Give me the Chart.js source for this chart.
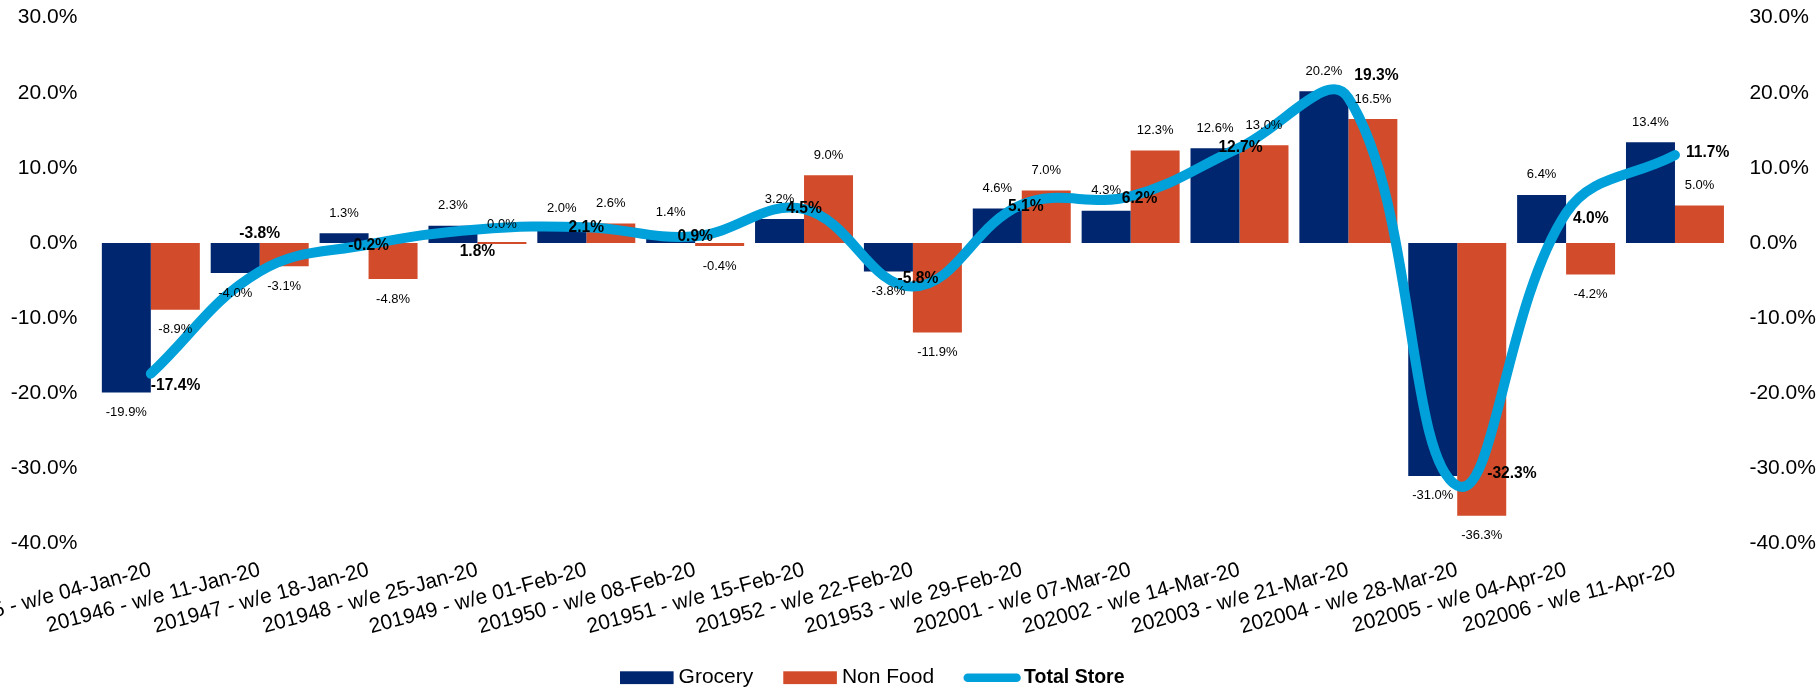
<!DOCTYPE html>
<html>
<head>
<meta charset="utf-8">
<title>Weekly sales growth</title>
<script src="https://cdn.jsdelivr.net/npm/chart.js@4.4.1/dist/chart.umd.min.js"></script>
<style>
  html, body { margin: 0; padding: 0; background: #ffffff; }
  #wrap { width: 1820px; height: 691px; }
</style>
</head>
<body>
<div id="wrap"><canvas id="chart" width="1820" height="691"></canvas></div>
<script>
// Week labels
const weeks = [
  '201945 - w/e 04-Jan-20', '201946 - w/e 11-Jan-20', '201947 - w/e 18-Jan-20',
  '201948 - w/e 25-Jan-20', '201949 - w/e 01-Feb-20', '201950 - w/e 08-Feb-20',
  '201951 - w/e 15-Feb-20', '201952 - w/e 22-Feb-20', '201953 - w/e 29-Feb-20',
  '202001 - w/e 07-Mar-20', '202002 - w/e 14-Mar-20', '202003 - w/e 21-Mar-20',
  '202004 - w/e 28-Mar-20', '202005 - w/e 04-Apr-20', '202006 - w/e 11-Apr-20'
];

// Year-on-year growth, %
const grocery    = [-19.9, -4.0, 1.3, 2.3, 2.0, 1.4, 3.2, -3.8, 4.6, 4.3, 12.6, 20.2, -31.0, 6.4, 13.4];
const nonFood    = [-8.9, -3.1, -4.8, 0.0, 2.6, -0.4, 9.0, -11.9, 7.0, 12.3, 13.0, 16.5, -36.3, -4.2, 5.0];
const totalStore = [-17.4, -3.8, -0.2, 1.8, 2.1, 0.9, 4.5, -5.8, 5.1, 6.2, 12.7, 19.3, -32.3, 4.0, 11.7];

// Value axis
const axisMin = -40;
const axisMax = 30;
const axisStep = 10;

// Where each Total Store label sits relative to its point: [align, dx, dy]
const totalLabelPlacement = [
  ['left', 0, 12], ['center', 0, -38], ['center', 0, 1], ['center', 0, 22],
  ['center', 0, 0], ['center', 0, 0], ['center', 0, 0], ['center', 5, -8],
  ['center', 4, 2], ['center', 9, 2], ['center', 1, 0], ['left', 6, -22],
  ['left', 30, -12], ['left', 7, 6], ['left', 11, -2]
];

const FONT = '"Liberation Sans", Arial, sans-serif';
const NAVY = '#00266F';
const ORANGE = '#D24B2A';
const SKY = '#00A0DA';

const pct = v => v.toFixed(1) + '%';

// Value labels on bars and on the Total Store line
const valueLabels = {
  id: 'valueLabels',
  afterDatasetsDraw(chart) {
    const ctx = chart.ctx;
    ctx.save();
    ctx.textBaseline = 'middle';
    ctx.fillStyle = '#000000';
    chart.data.datasets.forEach((ds, di) => {
      const meta = chart.getDatasetMeta(di);
      meta.data.forEach((el, i) => {
        const v = ds.data[i];
        if (meta.type === 'bar') {
          ctx.font = '13px ' + FONT;
          ctx.textAlign = 'center';
          const y = v >= 0 ? el.y - 20 : el.y + 20;
          ctx.fillText(pct(v), el.x, y);
        } else {
          const [align, dx, dy] = totalLabelPlacement[i];
          ctx.font = 'bold 15.6px ' + FONT;
          ctx.textAlign = align;
          ctx.fillText(pct(v), el.x + dx, el.y + dy);
        }
      });
    });
    ctx.restore();
  }
};

// Legend row under the axis labels
const legendRow = {
  id: 'legendRow',
  afterDraw(chart) {
    const ctx = chart.ctx;
    const cy = 677.7;
    const gaps = [30, 29.4];
    let x = 620;
    ctx.save();
    ctx.textBaseline = 'middle';
    ctx.textAlign = 'left';
    chart.data.datasets.forEach((ds, i) => {
      if (ds.type === 'line') {
        ctx.strokeStyle = ds.borderColor;
        ctx.lineWidth = 8.5;
        ctx.lineCap = 'round';
        ctx.beginPath();
        ctx.moveTo(x + 4.25, cy);
        ctx.lineTo(x + 57.3 - 4.25, cy);
        ctx.stroke();
        x += 57.3 + 3.3;
        ctx.font = 'bold 19.5px ' + FONT;
      } else {
        ctx.fillStyle = ds.backgroundColor;
        ctx.fillRect(x, cy - 6.4, 53.6, 12.8);
        x += 53.6 + 5;
        ctx.font = '21px ' + FONT;
      }
      ctx.fillStyle = '#000000';
      ctx.fillText(ds.label, x, cy);
      x += ctx.measureText(ds.label).width + (gaps[i] || 0);
    });
    ctx.restore();
  }
};

const valueAxis = (position, width, pad) => ({
  type: 'linear',
  position: position,
  min: axisMin,
  max: axisMax,
  grid: { display: false, drawTicks: false },
  border: { display: false },
  ticks: {
    stepSize: axisStep,
    padding: pad,
    color: '#000000',
    font: { family: FONT, size: 21 },
    callback: v => pct(v)
  },
  afterFit(scale) {
    scale.width = width;
    scale.paddingTop = 0;
    scale.paddingBottom = 0;
  }
});

new Chart(document.getElementById('chart'), {
  data: {
    labels: weeks,
    datasets: [
      { type: 'bar', label: 'Grocery', data: grocery, backgroundColor: NAVY,
        yAxisID: 'y', order: 2, categoryPercentage: 0.9, barPercentage: 1.0, minBarLength: 2 },
      { type: 'bar', label: 'Non Food', data: nonFood, backgroundColor: ORANGE,
        yAxisID: 'y', order: 2, categoryPercentage: 0.9, barPercentage: 1.0, minBarLength: 2 },
      { type: 'line', label: 'Total Store', data: totalStore, borderColor: SKY, backgroundColor: SKY,
        yAxisID: 'y2', order: 1, borderWidth: 10, tension: 0.4, pointRadius: 0,
        borderCapStyle: 'round', borderJoinStyle: 'round', fill: false }
    ]
  },
  options: {
    responsive: false,
    animation: false,
    devicePixelRatio: 1,
    layout: { padding: { top: 17.6, bottom: 40, left: 0, right: 0 } },
    plugins: {
      legend: { display: false },
      tooltip: { enabled: false },
      title: { display: false }
    },
    scales: {
      x: {
        grid: { display: false, drawTicks: false },
        border: { display: false },
        ticks: {
          autoSkip: false,
          minRotation: 15,
          maxRotation: 15,
          padding: 14,
          color: '#000000',
          font: { family: FONT, size: 21 }
        },
        afterFit(scale) {
          scale.height = 107.5;
          scale.paddingLeft = 0;
          scale.paddingRight = 0;
        }
      },
      y: valueAxis('left', 96.4, 19),
      y2: valueAxis('right', 90.6, 20)
    }
  },
  plugins: [valueLabels, legendRow]
});
</script>
</body>
</html>
